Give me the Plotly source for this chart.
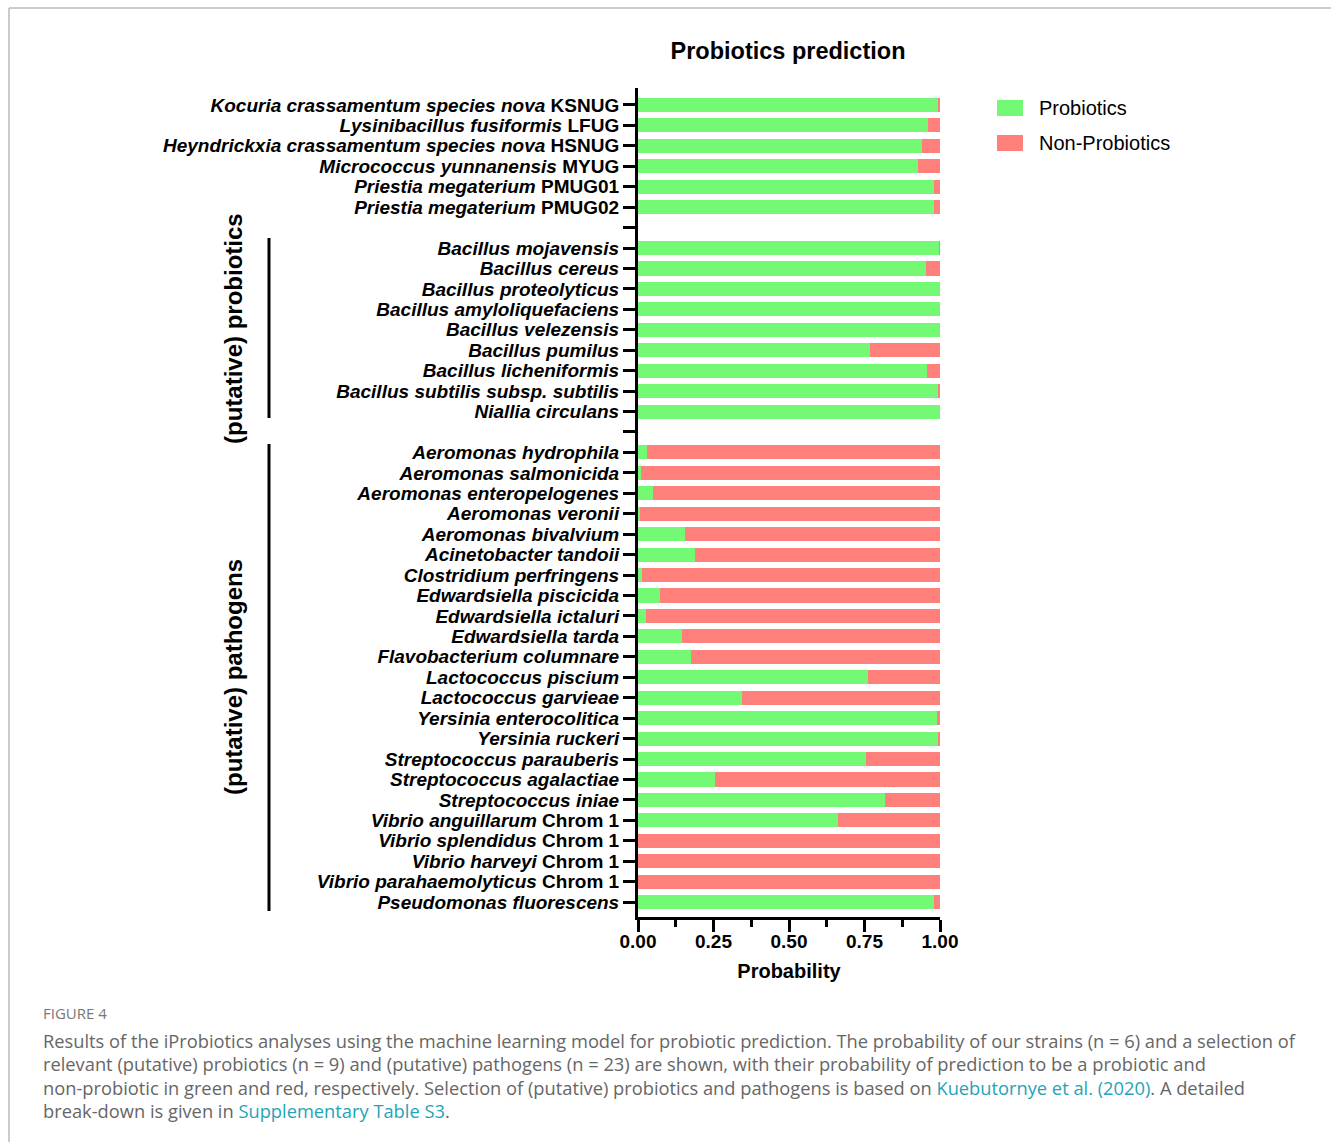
import plotly.graph_objects as go

# ---------------- data ----------------
strain_names = ["Kocuria crassamentum species nova|KSNUG", "Lysinibacillus fusiformis|LFUG",
                "Heyndrickxia crassamentum species nova|HSNUG", "Micrococcus yunnanensis|MYUG",
                "Priestia megaterium|PMUG01", "Priestia megaterium|PMUG02"]
strain_prob = [0.992, 0.959, 0.940, 0.926, 0.979, 0.979]
strain_nonprob = [0.008, 0.041, 0.060, 0.074, 0.021, 0.021]

probiotic_names = ["Bacillus mojavensis|", "Bacillus cereus|", "Bacillus proteolyticus|",
                   "Bacillus amyloliquefaciens|", "Bacillus velezensis|", "Bacillus pumilus|",
                   "Bacillus licheniformis|", "Bacillus subtilis subsp. subtilis|", "Niallia circulans|"]
probiotic_prob = [0.997, 0.954, 1.0, 1.0, 1.0, 0.767, 0.958, 0.992, 1.0]
probiotic_nonprob = [0.003, 0.046, 0.0, 0.0, 0.0, 0.233, 0.042, 0.008, 0.0]

pathogen_names = ["Aeromonas hydrophila|", "Aeromonas salmonicida|", "Aeromonas enteropelogenes|",
                  "Aeromonas veronii|", "Aeromonas bivalvium|", "Acinetobacter tandoii|",
                  "Clostridium perfringens|", "Edwardsiella piscicida|", "Edwardsiella ictaluri|",
                  "Edwardsiella tarda|", "Flavobacterium columnare|", "Lactococcus piscium|",
                  "Lactococcus garvieae|", "Yersinia enterocolitica|", "Yersinia ruckeri|",
                  "Streptococcus parauberis|", "Streptococcus agalactiae|", "Streptococcus iniae|",
                  "Vibrio anguillarum|Chrom 1", "Vibrio splendidus|Chrom 1", "Vibrio harveyi|Chrom 1",
                  "Vibrio parahaemolyticus|Chrom 1", "Pseudomonas fluorescens|"]
pathogen_prob = [0.031, 0.011, 0.050, 0.008, 0.155, 0.190, 0.014, 0.074, 0.028, 0.145, 0.176,
                 0.761, 0.343, 0.989, 0.993, 0.755, 0.254, 0.818, 0.661, 0.0, 0.0, 0.0, 0.980]
pathogen_nonprob = [0.969, 0.989, 0.950, 0.992, 0.845, 0.810, 0.986, 0.926, 0.972, 0.855, 0.824,
                    0.239, 0.657, 0.011, 0.007, 0.245, 0.746, 0.182, 0.339, 1.0, 1.0, 1.0, 0.020]

GREEN = "#74F974"
RED = "#FF7F7A"

# ---------------- build category order ----------------
names = strain_names + probiotic_names + pathogen_names
prob = strain_prob + probiotic_prob + pathogen_prob
nonprob = strain_nonprob + probiotic_nonprob + pathogen_nonprob

order = strain_names + ["gap1"] + probiotic_names + ["gap2"] + pathogen_names


def fmt(n):
    if n.startswith("gap"):
        return ""
    sp, code = n.split("|")
    s = "<i>" + sp + "</i>"
    if code:
        s += " " + code
    return "<b>" + s + "</b>"


ticktext = [fmt(n) for n in order]

fig = go.Figure()
fig.add_trace(go.Bar(y=names, x=prob, orientation="h", marker=dict(color=GREEN, line=dict(width=0)),
                     name="Probiotics", showlegend=False))
fig.add_trace(go.Bar(y=names, x=nonprob, orientation="h", marker=dict(color=RED, line=dict(width=0)),
                     name="Non-Probiotics", showlegend=False))

# pixel geometry helpers
L, R, T, B = 638, 940, 88, 917
W, H = 1331, 1142


def px(x):
    return (x - L) / (R - L)


def py(y):
    return (B - y) / (B - T)


FONT = "Liberation Sans, Arial, sans-serif"

fig.update_layout(
    width=W, height=H,
    margin=dict(l=L, r=W - R, t=T, b=H - B, autoexpand=False),
    barmode="stack", bargap=0.31,
    plot_bgcolor="white", paper_bgcolor="white",
    font=dict(family=FONT, color="black"),
    title=dict(text="<b>Probiotics prediction</b>", x=px(788), xref="paper", xanchor="center",
               y=1 - 51 / H, yanchor="middle", font=dict(size=23.5, family=FONT)),
)

fig.update_yaxes(
    type="category", categoryorder="array", categoryarray=order,
    tickvals=order, ticktext=ticktext,
    range=[len(order) - 1 + 0.73, -0.83],
    showline=True, linewidth=3, linecolor="black",
    ticks="outside", ticklen=12, tickwidth=3, tickcolor="black",
    tickfont=dict(size=19, family=FONT), showgrid=False, zeroline=False,
)
fig.update_xaxes(
    range=[0, 1], tickvals=[0, 0.25, 0.5, 0.75, 1.0],
    ticktext=["<b>0.00</b>", "<b>0.25</b>", "<b>0.50</b>", "<b>0.75</b>", "<b>1.00</b>"],
    showline=True, linewidth=3, linecolor="black",
    ticks="outside", ticklen=12, tickwidth=3, tickcolor="black",
    ticklabelstandoff=-7,
    minor=dict(tickvals=[0.125, 0.375, 0.625, 0.875], ticks="outside", ticklen=7, tickwidth=3,
               tickcolor="black"),
    tickfont=dict(size=19, family=FONT), showgrid=False, zeroline=False,
    title=dict(text="<b>Probability</b>", font=dict(size=20, family=FONT), standoff=14),
)

shapes = []
annotations = []

# group brackets
shapes.append(dict(type="line", xref="paper", yref="paper", x0=px(269), x1=px(269),
                   y0=py(238), y1=py(418), line=dict(color="black", width=3)))
shapes.append(dict(type="line", xref="paper", yref="paper", x0=px(269), x1=px(269),
                   y0=py(444), y1=py(911), line=dict(color="black", width=3)))
annotations.append(dict(text="<b>(putative) probiotics</b>", textangle=-90, xref="paper", yref="paper",
                        x=px(233), y=py(329), showarrow=False, xanchor="center", yanchor="middle",
                        font=dict(size=24, family=FONT)))
annotations.append(dict(text="<b>(putative) pathogens</b>", textangle=-90, xref="paper", yref="paper",
                        x=px(233), y=py(677), showarrow=False, xanchor="center", yanchor="middle",
                        font=dict(size=24, family=FONT)))

# manual legend
for i, (lab, col) in enumerate([("Probiotics", GREEN), ("Non-Probiotics", RED)]):
    cy = 108 + 35 * i
    shapes.append(dict(type="rect", xref="paper", yref="paper", x0=px(997), x1=px(1023),
                       y0=py(cy - 8), y1=py(cy + 8), fillcolor=col, line=dict(width=0)))
    annotations.append(dict(text=lab, xref="paper", yref="paper", x=px(1037), y=py(cy),
                            xanchor="left", yanchor="middle", showarrow=False,
                            font=dict(size=20, family=FONT)))

# page frame
shapes.append(dict(type="line", xref="paper", yref="paper", x0=px(9), x1=px(1331), y0=py(8), y1=py(8),
                   line=dict(color="#BBBBBB", width=1.5)))
shapes.append(dict(type="line", xref="paper", yref="paper", x0=px(9), x1=px(9), y0=py(8), y1=py(1142),
                   line=dict(color="#BBBBBB", width=1.5)))

# caption
CAP = "Open Sans, Noto Sans, sans-serif"
LINK = "#1FA4B8"
annotations.append(dict(text="FIGURE 4", xref="paper", yref="paper", x=px(41), y=py(1013),
                        xanchor="left", yanchor="middle", showarrow=False,
                        font=dict(size=15, family=CAP, color="#777777")))
cap_lines = [
    "Results of the iProbiotics analyses using the machine learning model for probiotic prediction. The probability of our strains (n = 6) and a selection of",
    "relevant (putative) probiotics (n = 9) and (putative) pathogens (n = 23) are shown, with their probability of prediction to be a probiotic and",
    "non-probiotic in green and red, respectively. Selection of (putative) probiotics and pathogens is based on <span style='color:" + LINK + "'>Kuebutornye et al. (2020)</span>. A detailed",
    "break-down is given in <span style='color:" + LINK + "'>Supplementary Table S3</span>.",
]
for i, line in enumerate(cap_lines):
    annotations.append(dict(text=line, xref="paper", yref="paper", x=px(41), y=py(1040 + 23.5 * i),
                            xanchor="left", yanchor="middle", showarrow=False,
                            font=dict(size=18.3, family=CAP, color="#666666")))

fig.update_layout(shapes=shapes, annotations=annotations)

fig.write_html("out.html", post_script="document.body.style.margin='0';",
               config={"displayModeBar": False})
